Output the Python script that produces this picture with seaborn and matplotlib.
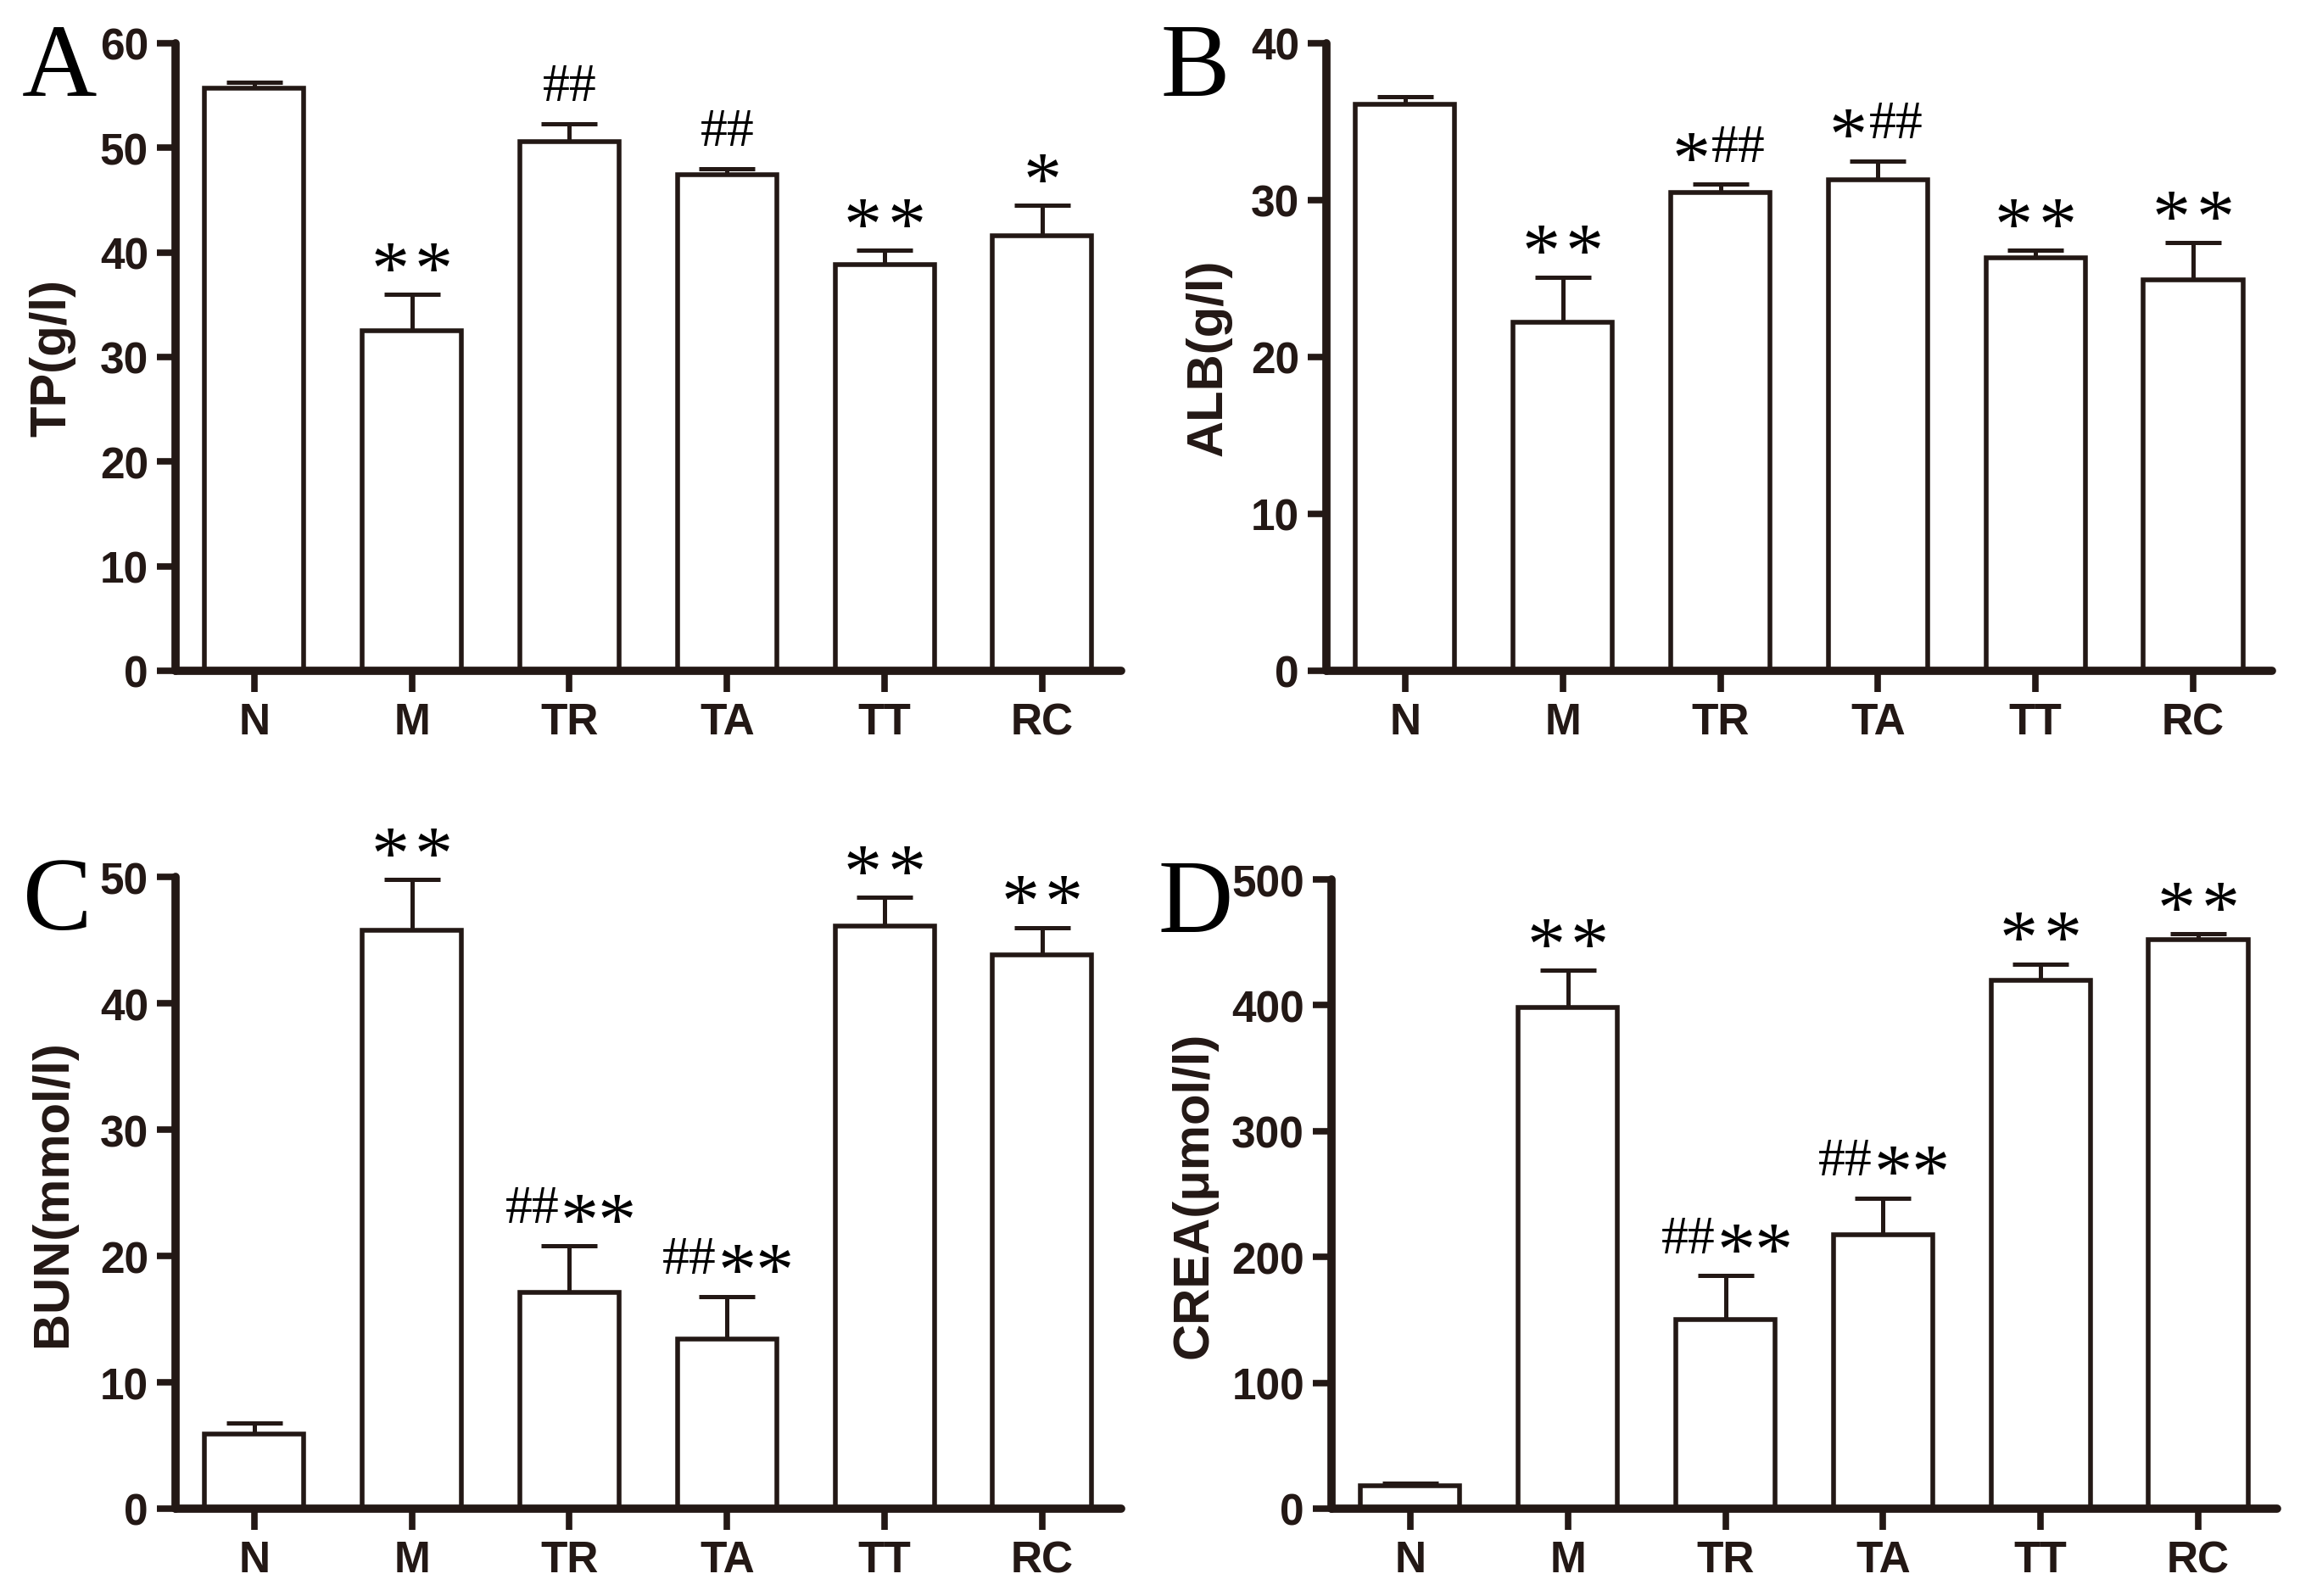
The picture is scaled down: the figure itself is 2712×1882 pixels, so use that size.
import numpy as np
import pandas as pd
import seaborn as sns
import matplotlib
matplotlib.use("Agg")
import matplotlib.pyplot as plt

DARK = "#231815"

groups = ["N", "M", "TR", "TA", "TT", "RC"]

tp_mean = [55.7, 32.5, 50.6, 47.4, 38.8, 41.6]
tp_err = [0.6, 3.5, 1.7, 0.6, 1.4, 2.9]
tp_marks = ["", "* *", "##", "##", "* *", "*"]

alb_mean = [36.1, 22.2, 30.5, 31.3, 26.3, 24.9]
alb_err = [0.5, 2.9, 0.5, 1.2, 0.5, 2.4]
alb_marks = ["", "* *", "*##", "*##", "* *", "* *"]

bun_mean = [5.9, 45.8, 17.1, 13.4, 46.1, 43.8]
bun_err = [0.9, 4.0, 3.7, 3.4, 2.3, 2.2]
bun_marks = ["", "* *", "##**", "##**", "* *", "* *"]

crea_mean = [18, 398, 150, 218, 420, 452]
crea_err = [2, 30, 35, 29, 13, 5]
crea_marks = ["", "* *", "##**", "##**", "* *", "* *"]

panels = [
    ("A", "TP(g/l)", tp_mean, tp_err, tp_marks, 60, 10, [0.0763, 0.5794, 0.4111, 0.3930], -0.105, 0.0095),
    ("B", "ALB(g/l)", alb_mean, alb_err, alb_marks, 40, 10, [0.5767, 0.5794, 0.4111, 0.3930], -0.100, 0.5045),
    ("C", "BUN(mmol/l)", bun_mean, bun_err, bun_marks, 50, 10, [0.0763, 0.0547, 0.4111, 0.3956], -0.105, 0.0100),
    ("D", "CREA(\u03bcmol/l)", crea_mean, crea_err, crea_marks, 500, 100, [0.5789, 0.0547, 0.4111, 0.3940], -0.121, 0.5035),
]

# rough ink widths (points) used to centre the marks
HASH_SIZE, STAR_SIZE = 46, 65
HASH_W = 23.0
STAR_INK = 27.0
STAR_ADV = 32.5
SPACE_W = 10.0
GAP_W = 4.0


def run_width(txt):
    if txt[0] == "#":
        return HASH_W * len(txt)
    if txt[0] == "*":
        return STAR_ADV * (len(txt) - 1) + STAR_INK
    return SPACE_W


def draw_marks(ax, i, y, lab):
    # split label into runs of the same character
    runs = []
    for c in lab:
        if runs and runs[-1][0] == c:
            runs[-1] += c
        else:
            runs.append(c)
    widths = []
    for n, r in enumerate(runs):
        gap = GAP_W if n > 0 and r[0] != " " and runs[n - 1][0] != " " else 0.0
        widths.append((gap, run_width(r)))
    x = -sum(g + w for g, w in widths) / 2
    for r, (g, w) in zip(runs, widths):
        x += g
        if r[0] != " ":
            hash_run = r[0] == "#"
            ax.annotate(r, (i, y), xytext=(x + w / 2, 20 if hash_run else 1),
                        textcoords="offset points", ha="center", va="baseline",
                        fontsize=HASH_SIZE if hash_run else STAR_SIZE,
                        family="Liberation Serif", color="black", annotation_clip=False)
        x += w


sns.set_theme(style="ticks")
plt.rcParams["font.family"] = ["Liberation Sans", "DejaVu Sans"]

fig = plt.figure(figsize=(27.12, 18.83), dpi=100)

for letter, ylabel, mean, err, marks, ymax, step, rect, labx, letx in panels:
    ax = fig.add_axes(rect)
    df = pd.DataFrame({"group": groups, "value": mean})
    sns.barplot(data=df, x="group", y="value", color="white", edgecolor=DARK,
                linewidth=4, width=0.63, errorbar=None, saturation=1, ax=ax)
    for p in ax.patches:
        p.set_zorder(2)
    ax.errorbar(np.arange(len(groups)), mean, yerr=[np.zeros(len(err)), err],
                fmt="none", ecolor=DARK, elinewidth=3.6, capsize=24, capthick=3.6, zorder=1)

    for i, lab in enumerate(marks):
        if lab:
            draw_marks(ax, i, mean[i] + err[i], lab)

    ax.set_ylim(0, ymax)
    ax.set_xlim(-0.5, 5.5)
    ax.set_yticks(np.arange(0, ymax + step, step))
    ax.set_xlabel("")
    ax.set_ylabel(ylabel, fontsize=43, fontweight="bold", color=DARK)
    ax.yaxis.set_label_coords(labx, 0.5)
    sns.despine(ax=ax)
    for s in ["left", "bottom"]:
        ax.spines[s].set_linewidth(7)
        ax.spines[s].set_color(DARK)
        ax.spines[s].set_capstyle("round")
    ax.tick_params(axis="y", length=16, width=5.5, color=DARK, pad=7, labelsize=37, labelcolor=DARK)
    ax.tick_params(axis="x", length=18, width=5.5, color=DARK, pad=8, labelsize=37, labelcolor=DARK)
    for t in ax.get_xticklabels() + ax.get_yticklabels():
        t.set_fontweight("bold")

    pos = ax.get_position()
    fig.text(letx, pos.y1 - 0.0325, letter, fontsize=88, family="Liberation Serif",
             color="black", ha="left", va="baseline")

fig.savefig("out.png", dpi=100, facecolor="white")
